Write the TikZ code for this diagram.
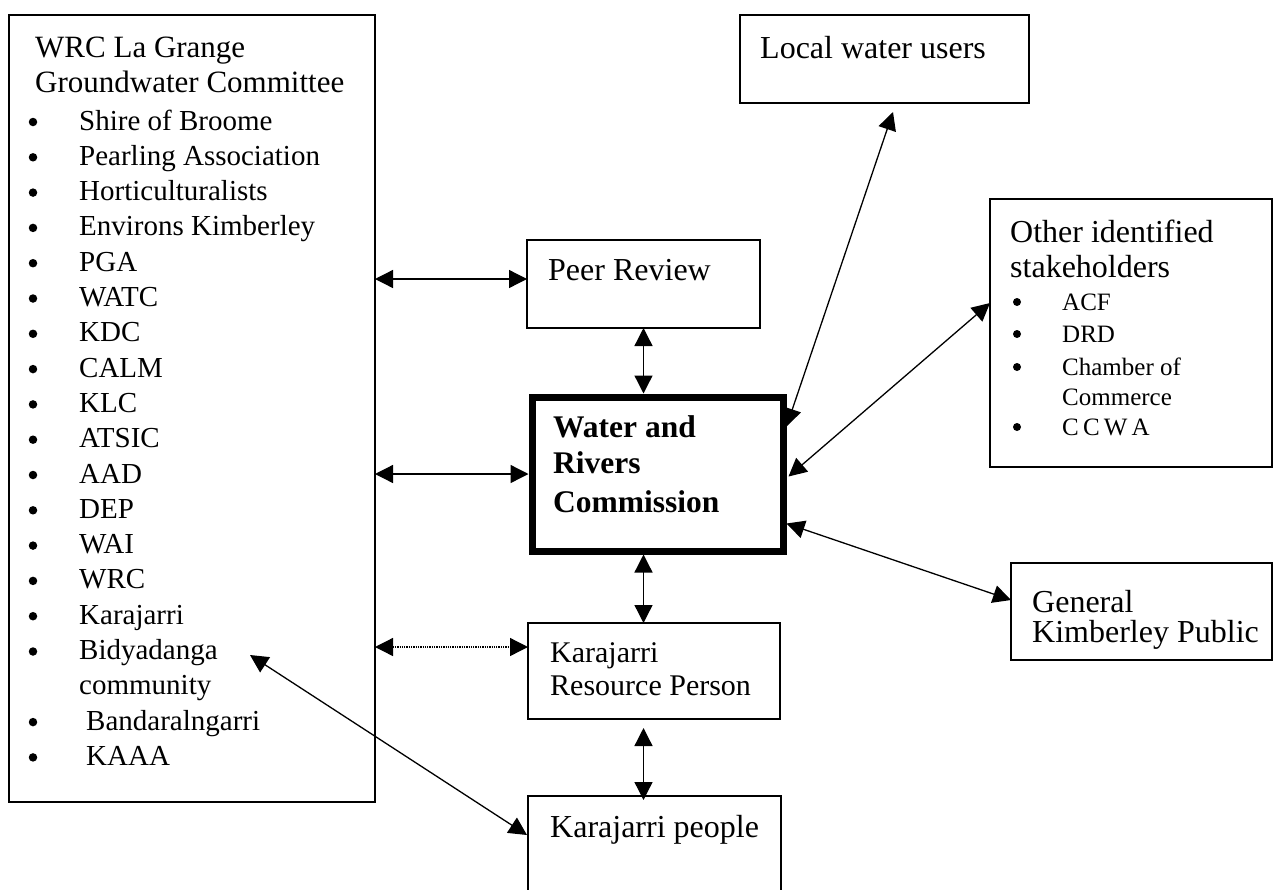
\documentclass[tikz,border=0pt]{standalone}
\usepackage{fontspec}
\setmainfont{Liberation Serif}
\usetikzlibrary{arrows.meta,calc}
\begin{document}
\begin{tikzpicture}[x=1pt,y=-1pt,
  box/.style={draw, line width=1.2pt, inner sep=0pt, outer sep=0pt, anchor=north west},
  txt/.style={anchor=base west, inner sep=0pt},
  bul/.style={circle, fill, inner sep=0pt, minimum size=8.5pt},
  link/.style={line width=1.3pt, {Triangle[length=18pt,width=18pt]}-{Triangle[length=18pt,width=18pt]}},
  fa/.style={font=\fontsize{29}{35}\selectfont},
  fb/.style={font=\fontsize{31}{35}\selectfont},
  fc/.style={font=\fontsize{32}{35}\selectfont},
  fd/.style={font=\fontsize{25}{30}\selectfont},
  fe/.style={font=\fontsize{30}{35}\selectfont},
]
\useasboundingbox (0,0) rectangle (1274,889);

% boxes
\node[box, minimum width=366pt, minimum height=787pt] (left) at (9,15) {};
\node[box, minimum width=289pt, minimum height=88pt] (lwu) at (740,15) {};
\node[box, minimum width=233pt, minimum height=88pt] (pr) at (527,240) {};
\node[box, line width=7pt, outer sep=3.5pt, minimum width=251pt, minimum height=154pt] (wrc) at (528.5,393.5) {};
\node[box, minimum width=282pt, minimum height=268pt] (oth) at (990,199) {};
\node[box, minimum width=261pt, minimum height=97pt] (gkp) at (1011,563) {};
\node[box, minimum width=252pt, minimum height=96pt] (krp) at (528,623) {};
\node[box, minimum width=253pt, minimum height=110pt] (kp) at (528,796) {};

% left box texts
\node[txt, fb] (lt1) at (35,57) {WRC La Grange};
\node[txt, fb] (lt2) at (35,92) {Groundwater Committee};
\foreach \i/\xx/\t in {0/79/Shire of Broome, 1/79/Pearling Association, 2/79/Horticulturalists,
  3/79/Environs Kimberley, 4/79/PGA, 5/79/WATC, 6/79/KDC, 7/79/CALM, 8/79/KLC, 9/79/ATSIC,
  10/79/AAD, 11/79/DEP, 12/79/WAI, 13/79/WRC, 14/79/Karajarri, 15/79/Bidyadanga,
  16/79/community, 17/86/Bandaralngarri, 18/86/KAAA}
  \node[txt, fa] (li\i) at (\xx, {130+35.3*\i}) {\t};
\foreach \i in {0,...,15,17,18}
  \node[bul] (lb\i) at (33, {122+35.3*\i}) {};

% other boxes texts
\node[txt, fc] (lwut) at (760,58) {Local water users};
\node[txt, fc] (prt) at (548,280) {Peer Review};
\node[txt, font=\fontsize{31.5}{36}\selectfont\bfseries] (w1t) at (553,437) {Water and};
\node[txt, font=\fontsize{31.5}{36}\selectfont\bfseries] (w2t) at (553,473) {Rivers};
\node[txt, font=\fontsize{31.5}{36}\selectfont\bfseries] (w3t) at (553,512) {Commission};
\node[txt, fe] (k1t) at (550,662) {Karajarri};
\node[txt, fe] (k2t) at (550,695) {Resource Person};
\node[txt, fc] (kpt) at (550,837) {Karajarri people};
\node[txt, fc] (g1t) at (1032,612) {General};
\node[txt, fc] (g2t) at (1032,642) {Kimberley Public};
\node[txt, fc] (o1t) at (1010,242) {Other identified};
\node[txt, fc] (o2t) at (1010,277) {stakeholders};
\node[txt, fd] (oi1) at (1062,310) {ACF};
\node[txt, fd] (oi2) at (1062,342) {DRD};
\node[txt, fd] (oi3) at (1062,375) {Chamber of};
\node[txt, fd] (oi4) at (1062,405) {Commerce};
\node[txt, fd] (oi5) at (1062,435) {C\,C\,W\,A};
\foreach \yy [count=\j] in {310,342,375,435}
  \node[bul, minimum size=8pt] (ob\j) at (1017,{\yy-8}) {};

% connectors
\coordinate (prl) at ($(pr.north west)+(0,39)$);
\draw[link] (left.east |- prl) -- (prl);
\draw[link] (left.east |- wrc.west) -- (wrc.west);
\coordinate (krl) at ($(krp.north west)+(0,24)$);
\draw[link, densely dotted] (left.east |- krl) -- (krl);
\draw[link] (pr.south) -- (pr.south |- wrc.north);
\draw[link] (wrc.south -| pr.south) -- (krp.north -| pr.south);
\draw[link] ($(krp.south -| pr.south)+(0,9)$) -- ($(kp.north -| pr.south)+(0,4)$);
\coordinate (wa) at ($(wrc.north east)+(0,33)$);
\coordinate (la) at ($(lwu.south west)+(153,9)$);
\draw[link] (wa) -- (la);
\coordinate (wb) at ($(wrc.north east)+(2,83)$);
\coordinate (ob) at ($(oth.north west)+(0,104)$);
\draw[link] (wb) -- (ob);
\coordinate (wc) at ($(wrc.north east)+(0,130)$);
\coordinate (gc) at ($(gkp.north west)+(0,37)$);
\draw[link] (wc) -- (gc);
\coordinate (bid) at (250,655);
\coordinate (kd) at ($(kp.north west)+(-1,39)$);
\draw[link] (bid) -- (kd);
\end{tikzpicture}
\end{document}
